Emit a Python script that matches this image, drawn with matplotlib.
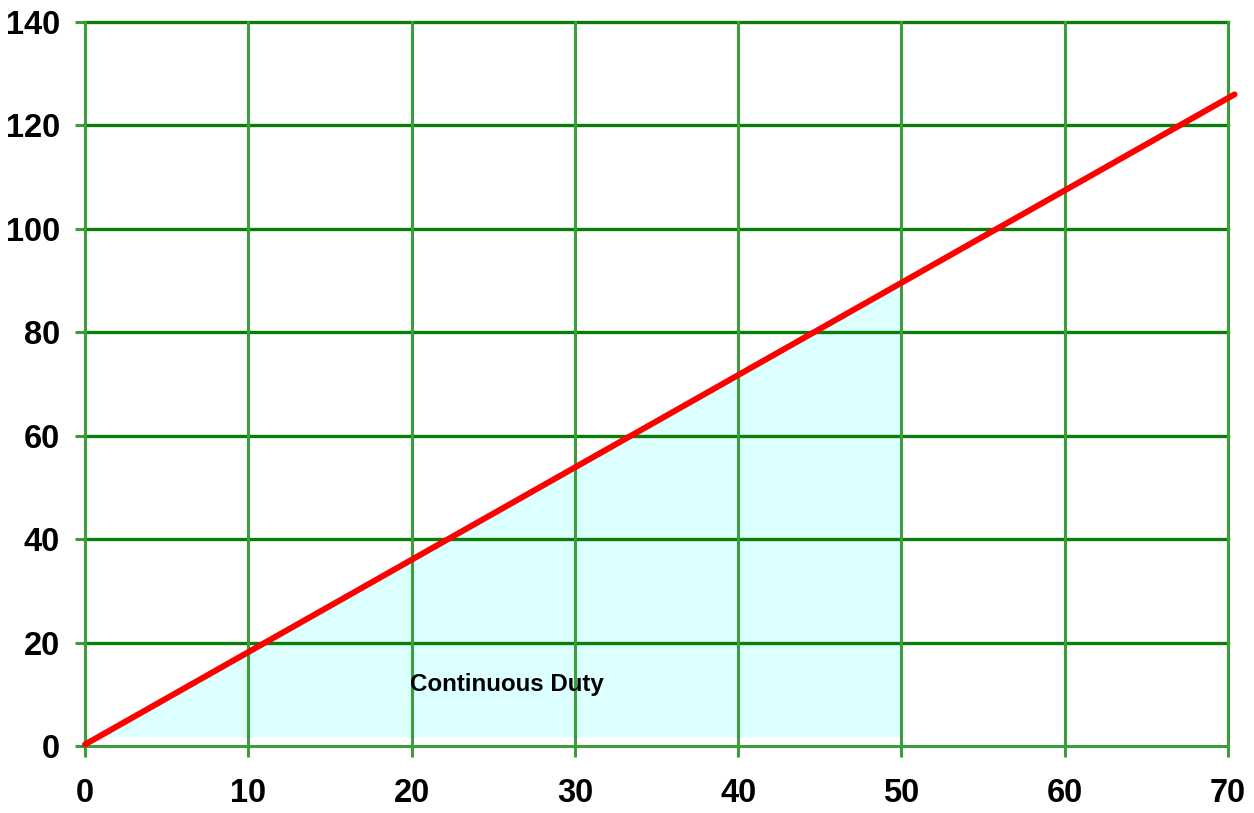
import matplotlib
matplotlib.use("Agg")
import matplotlib.pyplot as plt

plt.rcParams['font.family'] = ['Liberation Sans', 'DejaVu Sans']

# rating line
line_x = [0, 70.4]
line_y = [0.3, 126.0]

# continuous duty area
duty_x = [0, 50]
duty_top = [0.3, 89.5]
duty_bottom = 1.8

x_ticks = [0, 10, 20, 30, 40, 50, 60, 70]
y_ticks = [0, 20, 40, 60, 80, 100, 120, 140]

h_green = '#0a7d0a'
v_green = '#3a9f3a'

fig = plt.figure(figsize=(12.54, 8.13), dpi=100)
ax = fig.add_axes([85 / 1254, 67 / 813, 1143 / 1254, 724 / 813])

ax.fill_between(duty_x, duty_bottom, duty_top, color='#dcffff', lw=0, zorder=1)

for y in y_ticks[1:]:
    ax.axhline(y, color=h_green, lw=2.4, zorder=2, clip_on=False)
for x in x_ticks[1:]:
    ax.axvline(x, color=v_green, lw=2.2, zorder=2, clip_on=False)

ax.plot(line_x, line_y, color='red', lw=4.3, solid_capstyle='round',
        clip_on=False, zorder=4)

ax.text(19.9, 11.8, 'Continuous Duty', fontsize=17.4, fontweight='bold',
        ha='left', va='center', zorder=5)

ax.set_xlim(0, 70)
ax.set_ylim(0, 140)
ax.set_xticks(x_ticks)
ax.set_yticks(y_ticks)
for s in ['top', 'right']:
    ax.spines[s].set_visible(False)
for s in ['left', 'bottom']:
    ax.spines[s].set_color(v_green)
    ax.spines[s].set_linewidth(2.2)
    ax.spines[s].set_zorder(3)

ax.tick_params(axis='x', direction='out', length=8, width=2.2, color=v_green,
               pad=15, labelsize=23.5)
ax.tick_params(axis='y', direction='out', length=7, width=2.2, color=v_green,
               pad=11, labelsize=23.5)
for lab in ax.get_xticklabels() + ax.get_yticklabels():
    lab.set_fontweight('bold')

fig.savefig('out.png', dpi=100)
